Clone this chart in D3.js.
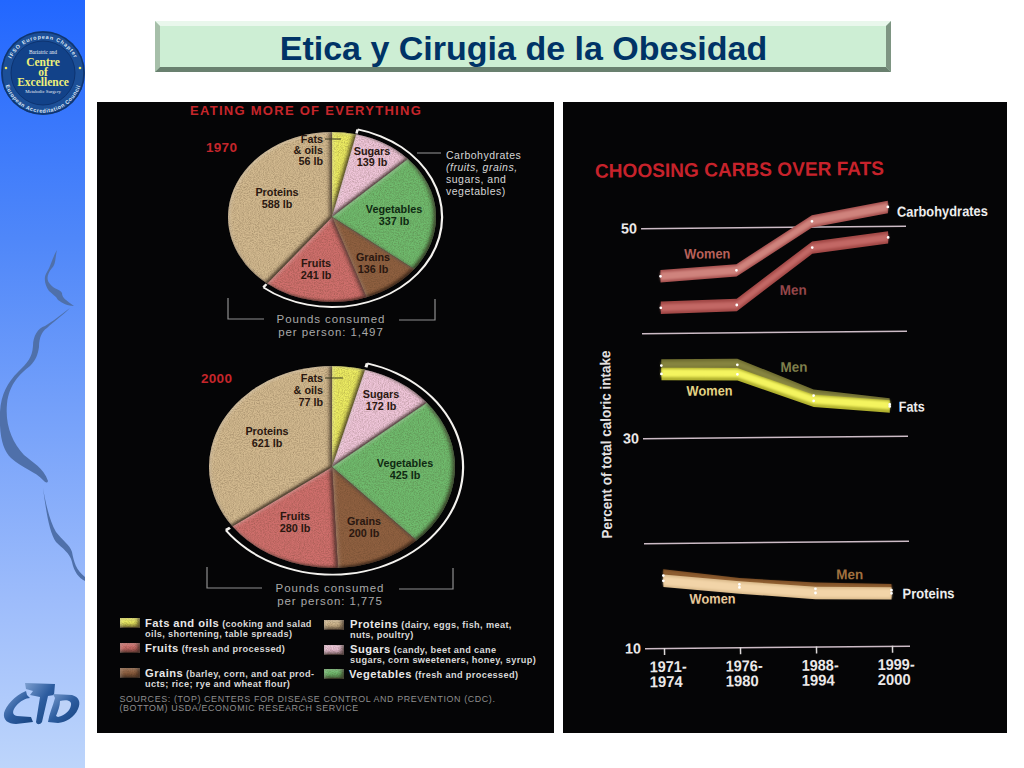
<!DOCTYPE html>
<html><head><meta charset="utf-8">
<script src="https://cdnjs.cloudflare.com/ajax/libs/d3/7.8.5/d3.min.js"></script>
<style>html,body{margin:0;padding:0;background:#fff}svg{display:block}</style>
</head><body><div id="c"></div>
<script>
// ---------- data ----------
const pieCategories = ["Fats & oils","Sugars","Vegetables","Grains","Fruits","Proteins"];
const pounds1970 = [56,139,337,136,241,588];
const pounds2000 = [77,172,425,200,280,621];
const total1970 = "1,497";
const total2000 = "1,775";
const periods = ["1971-1974","1976-1980","1988-1994","1999-2000"];
const carbsWomen = [45.4,45.9,50.5,51.8];
const carbsMen = [42.4,42.6,48.0,48.9];
const fatsWomen = [36.1,36.0,33.4,32.8];
const fatsMen = [36.9,36.9,33.9,33.0];
const proteinsWomen = [16.4,15.7,15.1,15.0];
const proteinsMen = [16.9,16.0,15.5,15.3];
const yTicks = [10,20,30,40,50];
const yLabelled = [10,30,50];

// ---------- styles / layout ----------
const sliceColor = {"Fats & oils":"#ecec62","Sugars":"#f0c6da","Vegetables":"#6fbb6d","Grains":"#8f6040","Fruits":"#cf6f6c","Proteins":"#d2b98f"};
const sans="'Liberation Sans',Arial,sans-serif", serif="'Liberation Serif',serif";
const svg=d3.select("#c").append("svg").attr("width",1024).attr("height",768);
const defs=svg.append("defs");
const sideG=defs.append("linearGradient").attr("id","side").attr("x1",0).attr("x2",0).attr("y1",0).attr("y2",1);
[[0,"#2267ff"],[.31,"#4f87f9"],[.78,"#9dbcfb"],[1,"#bdd5fb"]].forEach(s=>sideG.append("stop").attr("offset",s[0]).attr("stop-color",s[1]));
const ctoG=defs.append("linearGradient").attr("id","cto").attr("x1",0).attr("x2",1).attr("y1",0).attr("y2",1);
[[0,"#7d9fd0"],[.5,"#2c5c9f"],[1,"#16437f"]].forEach(s=>ctoG.append("stop").attr("offset",s[0]).attr("stop-color",s[1]));
// grain + inner bevel for pie slices
const f=defs.append("filter").attr("id","slice").attr("x","-10%").attr("y","-10%").attr("width","120%").attr("height","120%").attr("color-interpolation-filters","sRGB");
f.append("feTurbulence").attr("type","fractalNoise").attr("baseFrequency",0.8).attr("numOctaves",2).attr("seed",4).attr("result","n");
f.append("feColorMatrix").attr("in","n").attr("type","matrix").attr("values","0 0 0 0 0.25  0 0 0 0 0.18  0 0 0 0 0.1  0.55 0 0 0 -0.2").attr("result","na");
f.append("feComposite").attr("in","na").attr("in2","SourceAlpha").attr("operator","in").attr("result","grain");
f.append("feGaussianBlur").attr("in","SourceAlpha").attr("stdDeviation",2.2).attr("result","b");
f.append("feOffset").attr("in","b").attr("dx",-1.6).attr("dy",-1.6).attr("result","o");
f.append("feComposite").attr("in","SourceAlpha").attr("in2","o").attr("operator","arithmetic").attr("k1",-1).attr("k2",1).attr("k3",0).attr("k4",0).attr("result","inner");
f.append("feFlood").attr("flood-color","#1a0d05").attr("flood-opacity",.85);
f.append("feComposite").attr("in2","inner").attr("operator","in").attr("result","shade");
f.append("feOffset").attr("in","b").attr("dx",1.4).attr("dy",1.4).attr("result","o2");
f.append("feComposite").attr("in","SourceAlpha").attr("in2","o2").attr("operator","arithmetic").attr("k1",-1).attr("k2",1).attr("k3",0).attr("k4",0).attr("result","inner2");
f.append("feFlood").attr("flood-color","#fff").attr("flood-opacity",.3);
f.append("feComposite").attr("in2","inner2").attr("operator","in").attr("result","lite");
const fm=f.append("feMerge");["SourceGraphic","grain","shade","lite"].forEach(k=>fm.append("feMergeNode").attr("in",k));
defs.append("filter").attr("id","soft").attr("x","-5%").attr("y","-20%").attr("width","110%").attr("height","140%").append("feGaussianBlur").attr("stdDeviation",1.1);

// ---------- slide furniture ----------
svg.append("rect").attr("width",1024).attr("height",768).attr("fill","#fff");
svg.append("rect").attr("width",85).attr("height",768).attr("fill","url(#side)");
const deco="#4f70aa";
[
 "M57,250 C55,258 56,264 52,268 C47,274 46,280 50,284 C55,290 60,289 62,293 C62,298 66,300 74,306 C68,306 62,303 58,300 C56,296 52,294 49,291 C45,285 43,278 47,272 C51,266 52,258 57,250Z",
 "M70,308 C62,316 53,322 47,328 C42,331 39,338 39,347 C38,354 36,360 30,366 C20,374 9,384 7,404 C5,425 12,442 24,455 C32,462 44,468 48,481 C47,484 45,482 43,480 C36,472 22,468 11,458 C3,450 -1,436 0,412 C1,394 8,382 18,372 C28,362 32,358 33,346 C33,336 38,328 45,326 C52,322 62,314 70,308Z",
 "M43,488 C46,505 50,522 56,532 C62,540 70,545 72,552 C74,562 76,570 85,577 L85,581 C79,578 74,572 72,562 C70,553 62,548 56,542 C49,532 46,510 43,488Z"
].forEach(d=>svg.append("path").attr("d",d).attr("fill",deco));

// logo
const logo=svg.append("g").attr("transform","translate(43,73)");
logo.append("circle").attr("r",42).attr("fill","#1c4f97");
logo.append("circle").attr("r",41).attr("fill","none").attr("stroke","#0f3470").attr("stroke-width",1.5);
logo.append("circle").attr("r",32).attr("fill","#124289").attr("stroke","#0d3370").attr("stroke-width",1);
defs.append("path").attr("id","arcTop").attr("d","M-34,9 A35,35 0 1 1 34,9");
defs.append("path").attr("id","arcBot").attr("d","M-38.5,9 A39.5,39.5 0 0 0 38.5,9");
[["arcTop","IFSO European Chapter",.85],["arcBot","European Accreditation Council",.55]].forEach(a=>{
 logo.append("text").attr("font-family",sans).attr("font-size",5.4).attr("font-weight","bold").attr("fill","#dfe8f5").attr("letter-spacing",a[2])
  .append("textPath").attr("href","#"+a[0]).attr("startOffset","50%").attr("text-anchor","middle").text(a[1]);
});
[[-37,-5],[37,-5]].forEach(p=>logo.append("circle").attr("cx",p[0]).attr("cy",p[1]).attr("r",1.3).attr("fill","#f0e860"));
[["Bariatric and",54,5.4,"#e8edf5","normal"],["Centre",66,11.5,"#eef07a","bold"],["of",75.5,11.5,"#eef07a","bold"],["Excellence",85.5,11.5,"#eef07a","bold"],["Metabolic Surgery",92.5,4.8,"#e8edf5","normal"]].forEach(t=>{
 logo.append("text").attr("x",0).attr("y",t[1]-73).attr("text-anchor","middle").attr("font-family",serif).attr("font-size",t[2]).attr("font-weight",t[4]).attr("fill",t[3]).text(t[0]);
});
// CTO mark
const cto=svg.append("g").attr("fill","url(#cto)");
["M26,691 C14,696 6,706 4,713 C3,720 8,724 16,724 L33,722 L31,717 L17,716 C12,715 12,711 16,706 C20,701 26,698 30,698 L27,695 Z",
 "M25,683 L55,684 L54,695 L48,696 L42,722 C40,725 37,725 36,722 L40,697 L30,695 L33,691 L26,689Z",
 "M53,694 L72,695 C79,697 81,702 78,709 C74,718 66,722 58,723 L48,722 C49,714 53,706 55,698 Z"
].forEach(d=>cto.append("path").attr("d",d));
svg.append("path").attr("d","M60,701 C67,699 72,701 71,705 C70,711 65,715 58,717 L56,716 C58,711 60,706 60,701Z").attr("fill","#bdd2f8");

// title bar
const T={x:155,y:21,w:736,h:51,b:5};
svg.append("rect").attr("x",T.x).attr("y",T.y).attr("width",T.w).attr("height",T.h).attr("fill","#cdeed4");
const bev=[["#e9f7ec",`M${T.x},${T.y}h${T.w}l${-T.b},${T.b}h${-(T.w-2*T.b)}z`],["#a6bfa9",`M${T.x},${T.y}v${T.h}l${T.b},${-T.b}v${-(T.h-2*T.b)}z`],["#7e9583",`M${T.x+T.w},${T.y}v${T.h}l${-T.b},${-T.b}v${-(T.h-2*T.b)}z`],["#69806f",`M${T.x},${T.y+T.h}h${T.w}l${-T.b},${-T.b}h${-(T.w-2*T.b)}z`]];
bev.forEach(b=>svg.append("path").attr("d",b[1]).attr("fill",b[0]));
svg.append("text").attr("x",523.5).attr("y",59.5).attr("text-anchor","middle").attr("font-family",sans).attr("font-weight","bold").attr("font-size",34).attr("fill","#003366").text("Etica y Cirugia de la Obesidad");

// panels
svg.append("rect").attr("x",97).attr("y",102).attr("width",457).attr("height",631).attr("fill","#050506");
svg.append("rect").attr("x",563).attr("y",102).attr("width",444).attr("height",631).attr("fill","#050506");

// ---------- left panel ----------
const L=svg.append("g");
L.append("text").attr("x",190).attr("y",115).attr("font-family",sans).attr("font-weight","bold").attr("font-size",13).attr("letter-spacing",1.28).attr("fill","#c5262b").text("EATING MORE OF EVERYTHING");

const labelLayout1970={"Fats & oils":{end:323,y:[143,154,165],tick:[325,341,139]},"Sugars":{x:372,y:[155,166]},"Vegetables":{x:394,y:[213,225]},"Grains":{x:373,y:[261,273]},"Fruits":{x:316,y:[267,279]},"Proteins":{x:277,y:[196,208]}};
const labelLayout2000={"Fats & oils":{end:323,y:[382,394,406],tick:[325,343,378]},"Sugars":{x:381,y:[398,410]},"Vegetables":{x:405,y:[467,479]},"Grains":{x:364,y:[525,537]},"Fruits":{x:295,y:[520,532]},"Proteins":{x:267,y:[435,447]}};

function drawPie(values,o){
 const pie=d3.pie().sort(null).value(d=>d)(values);
 const arc=d3.arc().innerRadius(0).outerRadius(o.rx);
 const g=L.append("g").attr("transform",`translate(${o.cx},${o.cy}) scale(1,${o.ry/o.rx})`);
 g.selectAll("path.s").data(pie).join("path").attr("class","s").attr("d",arc)
  .attr("fill",(d,i)=>sliceColor[pieCategories[i]]).attr("filter","url(#slice)");
 const a0=pie[1].startAngle,a1=pie[4].endAngle,w=o.gap;
 g.append("path").attr("fill","#f4f2ee").attr("d",d3.arc().innerRadius(o.rx+w).outerRadius(o.rx+w+2.2).startAngle(a0).endAngle(a1)());
 [a0,a1].forEach(a=>g.append("path").attr("fill","#f4f2ee").attr("d",d3.arc().innerRadius(o.rx+w-4).outerRadius(o.rx+w+1).startAngle(a-.012).endAngle(a+.012)()));
 pieCategories.forEach((c,i)=>{
  const lay=o.labels[c];
  const txt=(x,y,s,anch)=>L.append("text").attr("x",x).attr("y",y).attr("text-anchor",anch).attr("font-family",sans).attr("font-weight","bold").attr("font-size",10.8).attr("fill",c==="Vegetables"?"#0f2a12":"#2a1710").text(s);
  if(lay.end){
   txt(lay.end,lay.y[0],"Fats","end");txt(lay.end,lay.y[1],"& oils","end");txt(lay.end,lay.y[2],values[i]+" lb","end");
   L.append("line").attr("x1",lay.tick[0]).attr("x2",lay.tick[1]).attr("y1",lay.tick[2]).attr("y2",lay.tick[2]).attr("stroke","#3a3a20").attr("stroke-width",1);
  } else { txt(lay.x,lay.y[0],c,"middle");txt(lay.x,lay.y[1],values[i]+" lb","middle"); }
 });
 const gray="#a9a9a9";
 L.append("text").attr("x",o.tx).attr("y",o.ty).attr("text-anchor","middle").attr("font-family",sans).attr("font-size",11.5).attr("letter-spacing",.9).attr("fill",gray).text("Pounds consumed");
 L.append("text").attr("x",o.tx).attr("y",o.ty+13).attr("text-anchor","middle").attr("font-family",sans).attr("font-size",11.5).attr("letter-spacing",.9).attr("fill",gray).text("per person: "+o.total);
 o.brackets.forEach(b=>L.append("path").attr("d",d3.line()(b)).attr("fill","none").attr("stroke","#8f8f8f").attr("stroke-width",1.2));
 L.append("text").attr("x",o.yearX).attr("y",o.yearY).attr("font-family",sans).attr("font-weight","bold").attr("font-size",13.5).attr("letter-spacing",.3).attr("fill","#c5262b").text(o.year);
}
drawPie(pounds1970,{cx:332,cy:217,rx:104,ry:85,gap:5,labels:labelLayout1970,total:total1970,tx:331,ty:323,year:"1970",yearX:206,yearY:152,
 brackets:[[[228,298],[228,319],[264,319]],[[399,320],[435,320],[435,299]]]});
drawPie(pounds2000,{cx:332,cy:467,rx:123,ry:101,gap:7,labels:labelLayout2000,total:total2000,tx:330,ty:592,year:"2000",yearX:201,yearY:383,
 brackets:[[[207,567],[207,588],[262,588]],[[399,589],[453,589],[453,568]]]});

L.append("line").attr("x1",417).attr("x2",441).attr("y1",153).attr("y2",153).attr("stroke","#9a9a9a").attr("stroke-width",1);
const carbLines=[["Carbohydrates",159,false],["(fruits, grains,",171,true],["sugars, and",183,false],["vegetables)",195,false]];
carbLines.forEach(l=>L.append("text").attr("x",446).attr("y",l[1]).attr("font-family",sans).attr("font-size",10.5).attr("letter-spacing",.5).attr("font-style",l[2]?"italic":"normal").attr("fill","#d6d6d6").text(l[0]));

// legend
const legendItems=[
 {c:"Fats & oils",sx:120,sy:618,h:10,x:145,y:627,head:"Fats and oils",rest:" (cooking and salad",line2:"oils, shortening, table spreads)",y2:637},
 {c:"Fruits",sx:120,sy:643,h:10,x:145,y:652,head:"Fruits",rest:" (fresh and processed)"},
 {c:"Grains",sx:120,sy:668,h:10,x:145,y:677,head:"Grains",rest:" (barley, corn, and oat prod-",line2:"ucts; rice; rye and wheat flour)",y2:686.5},
 {c:"Proteins",sx:324,sy:620,h:10,x:350,y:628,head:"Proteins",rest:" (dairy, eggs, fish, meat,",line2:"nuts, poultry)",y2:638},
 {c:"Sugars",sx:324,sy:645,h:10,x:350,y:653,head:"Sugars",rest:" (candy, beet and cane",line2:"sugars, corn sweeteners, honey, syrup)",y2:663},
 {c:"Vegetables",sx:324,sy:669,h:10,x:349,y:678,head:"Vegetables",rest:" (fresh and processed)"}
];
legendItems.forEach(it=>{
 L.append("rect").attr("x",it.sx).attr("y",it.sy).attr("width",20).attr("height",it.h).attr("fill",sliceColor[it.c]).attr("filter","url(#slice)");
 const t=L.append("text").attr("x",it.x).attr("y",it.y).attr("font-family",sans).attr("font-weight","bold").attr("fill","#e8e8e8");
 t.append("tspan").attr("font-size",11.2).attr("letter-spacing",.45).text(it.head);
 t.append("tspan").attr("font-size",9.2).attr("letter-spacing",.36).attr("fill","#d8d8d8").text(it.rest);
 if(it.line2) L.append("text").attr("x",it.x).attr("y",it.y2).attr("font-family",sans).attr("font-weight","bold").attr("font-size",9.2).attr("letter-spacing",.36).attr("fill","#d8d8d8").text(it.line2);
});
["SOURCES: (TOP) CENTERS FOR DISEASE CONTROL AND PREVENTION (CDC).","(BOTTOM) USDA/ECONOMIC RESEARCH SERVICE"].forEach((s,i)=>
 L.append("text").attr("x",119.5).attr("y",702+i*8.8).attr("font-family",sans).attr("font-size",8.9).attr("letter-spacing",.62).attr("fill","#8f8f8f").text(s));

// ---------- right panel: line chart ----------
const tilt=-0.54, pivot=[664,648];
const R=svg.append("g").attr("transform",`rotate(${tilt},${pivot[0]},${pivot[1]})`);
const x=d3.scalePoint().domain(periods).range([664,892]);
const y=d3.scaleLinear().domain([10,50]).range([648,228]);
const gridLeft=645, gridRight=910;
// condensed look: Liberation Sans Bold squeezed to the reference's text width
const squeeze=(sel,len)=>sel.attr("font-family",sans).attr("font-weight","bold").attr("textLength",len).attr("lengthAdjust","spacingAndGlyphs");

squeeze(R.append("text").attr("x",599.5).attr("y",177).attr("font-size",19.5).attr("fill","#c7222b").text("CHOOSING CARBS OVER FATS"),289);

const yAxis=d3.axisLeft(y).tickValues(yTicks).tickSize(gridRight-gridLeft).tickPadding(4)
 .tickFormat(d=>yLabelled.includes(d)?d:"");
const yg=R.append("g").attr("transform",`translate(${gridRight},0)`).call(yAxis);
yg.select(".domain").remove();
yg.selectAll("line").attr("stroke","#cdbcc6").attr("stroke-width",1.5);
yg.selectAll("text").attr("font-family",sans).attr("font-weight","bold").attr("font-size",14.5).attr("fill","#ebe8e8");
yg.selectAll("text").filter(d=>yLabelled.includes(d)).attr("textLength",16).attr("lengthAdjust","spacingAndGlyphs");

const xAxis=d3.axisBottom(x).tickSize(7).tickFormat("");
const xg=R.append("g").attr("transform","translate(0,648)").call(xAxis);
xg.select(".domain").remove();
xg.selectAll("line").attr("stroke","#dcd8d8").attr("stroke-width",1.5);
xg.selectAll(".tick").each(function(d){
  const p=d.split("-"),s=d3.select(this);
  [[p[0]+"-",24,37],[p[1],39,33]].forEach(r=>{
   s.append("text").attr("x",-15).attr("y",r[1]).attr("text-anchor","start").attr("fill","#ebe8e8").attr("font-family",sans).attr("font-weight","bold").attr("font-size",15.5)
    .attr("textLength",r[2]).attr("lengthAdjust","spacingAndGlyphs").text(r[0]);
  });
});

// ribbons: bands of constant vertical thickness around each series
const band=(half,dy)=>d3.area().x((d,i)=>x(periods[i])).y0(d=>y(d)+half+dy).y1(d=>y(d)-half+dy).curve(d3.curveLinear);
function ribbon(vals,base,core,coreHalf,dy){
 const g=R.append("g");
 g.append("path").attr("d",band(6.2,0)(vals)).attr("fill",base);
 g.append("path").attr("d",band(coreHalf,dy||0)(vals)).attr("fill",core).attr("filter","url(#soft)");
}
function dots(vals){R.append("g").selectAll("circle").data(vals).join("circle").attr("cx",(d,i)=>x(periods[i])).attr("cy",d=>y(d)).attr("r",1.4).attr("fill","#fff");}
ribbon(carbsWomen,"#a85250","#cf837d",4,0);
ribbon(carbsMen,"#a24846","#c26765",3.5,0);
ribbon(fatsMen,"#6e6c30","#86843f",3,-1);
ribbon(fatsWomen,"#b0b02e","#f4f45e",4,-1);
ribbon(proteinsMen,"#7a4c24","#8f5f30",2,-3);
ribbon(proteinsWomen,"#d9b98a","#f2d4a8",4.5,0);
[carbsWomen,carbsMen,fatsMen,fatsWomen,proteinsMen,proteinsWomen].forEach(dots);

// direct labels
const lab=(s,tx,ty,col,len,size)=>squeeze(R.append("text").attr("x",tx).attr("y",ty).attr("font-size",size||14).attr("fill",col).text(s),len);
lab("Carbohydrates",901,219,"#ededed",91,14.5);
lab("Fats",901,414,"#ededed",26,14.5);
lab("Proteins",903,601,"#ededed",52,14.5);
lab("Women",688,259,"#b8615a",46);
lab("Men",783,296,"#96474a",27);
lab("Men",783,373,"#7f7f4c",27);
lab("Women",689,396,"#e3d384",46);
lab("Men",837,581,"#a1713f",27);
lab("Women",690,604,"#e7c99b",46);
squeeze(R.append("text").attr("transform","translate(613,444) rotate(-90)").attr("text-anchor","middle").attr("font-size",14.5).attr("fill","#e4e1e1").text("Percent of total caloric intake"),188);
</script></body></html>
